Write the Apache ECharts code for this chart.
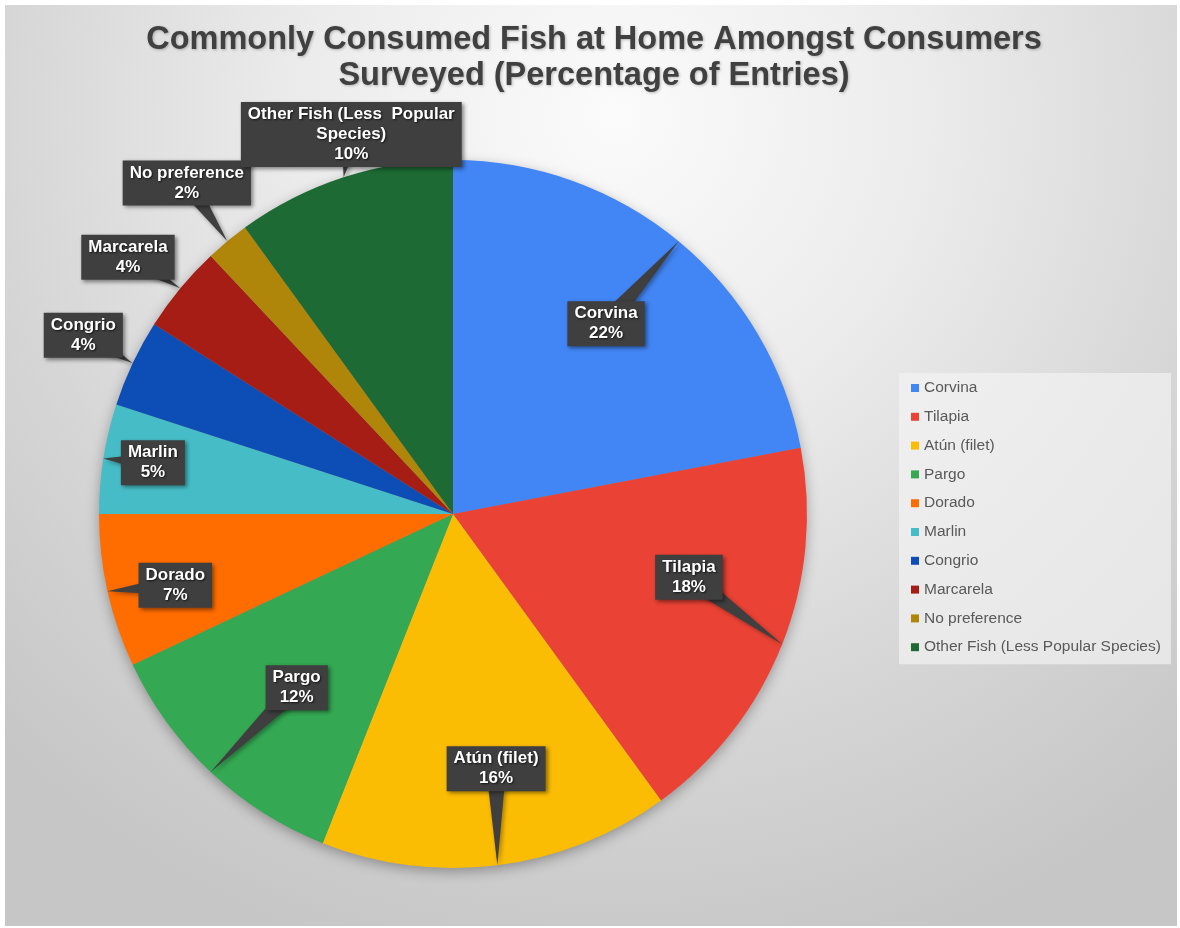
<!DOCTYPE html>
<html>
<head>
<meta charset="utf-8">
<title>Commonly Consumed Fish at Home</title>
<script src="https://cdn.jsdelivr.net/npm/echarts@6/dist/echarts.min.js"></script>
<style>
  html, body { margin: 0; padding: 0; background: #ffffff; }
  #chart {
    position: absolute;
    left: 5px; top: 5px;
    width: 1172px; height: 921px;
    background: radial-gradient(ellipse 75% 95% at 52% 12%, #fbfbfb 0%, #ececec 35%, #d6d6d6 70%, #c6c6c6 100%);
  }
</style>
</head>
<body>
<div id="chart"></div>
<script>
// Survey results: share of entries per fish species (percent)
const categories = ['Corvina', 'Tilapia', 'Atún (filet)', 'Pargo', 'Dorado', 'Marlin',
  'Congrio', 'Marcarela', 'No preference', 'Other Fish (Less Popular Species)'];
const shares = [22, 18, 16, 12, 7, 5, 4, 4, 2, 10];
// Text shown inside each callout box
const calloutNames = ['Corvina', 'Tilapia', 'Atún (filet)', 'Pargo', 'Dorado', 'Marlin',
  'Congrio', 'Marcarela', 'No preference', 'Other Fish (Less  Popular\nSpecies)'];
const sliceColors = ['#4285f4', '#ea4335', '#fbbc04', '#34a853', '#ff6d01', '#46bdc6',
  '#0d4db6', '#a51d14', '#b0860a', '#1e6a34'];

// Callout placement: distance from centre (fraction of radius) and angular nudge (deg)
const calloutRadius = [0.69, 0.69, 0.73, 0.66, 0.81, 0.86, 1.16, 1.17, 1.20, 1.11];
const calloutTurn = [-0.8, -6.6, -2.4, -1.2, -1.8, 0.7, 0.6, -1.3, 0.8, 3];

const CX = 448, CY = 509, R = 354;
const FONT = "'Liberation Sans', Arial, sans-serif";
const BOX = '#3f3f3f';

const total = shares.reduce((a, b) => a + b, 0);
const cumulative = [];
shares.reduce((acc, v, i) => { cumulative[i] = acc; return acc + v; }, 0);

// Callout box centre and pointer tip (slice edge at its mid-angle) for slice i
function callout(i) {
  const mid = (cumulative[i] + shares[i] / 2) / total * 360;
  const a = (mid + calloutTurn[i]) * Math.PI / 180;
  const m = mid * Math.PI / 180;
  const d = R * calloutRadius[i];
  return {
    x: CX + d * Math.sin(a),
    y: CY - d * Math.cos(a),
    tip: [CX + R * Math.sin(m), CY - R * Math.cos(m)]
  };
}

const sliceData = categories.map((name, i) => ({ name: name, value: shares[i] }));

const chart = echarts.init(document.getElementById('chart'), null, { renderer: 'canvas' });

chart.setOption({
  backgroundColor: 'transparent',
  animation: false,
  title: {
    text: 'Commonly Consumed Fish at Home Amongst Consumers\nSurveyed (Percentage of Entries)',
    left: 589,
    top: 17,
    padding: 0,
    textAlign: 'center',
    textStyle: {
      fontFamily: FONT,
      fontSize: 32.5,
      fontWeight: 'bold',
      color: '#404040',
      lineHeight: 36,
      align: 'center',
      textShadowColor: 'rgba(0,0,0,0.25)',
      textShadowBlur: 3,
      textShadowOffsetX: 1,
      textShadowOffsetY: 1
    }
  },
  legend: {
    orient: 'vertical',
    left: 894,
    top: 368,
    padding: [6, 10, 8, 12],
    backgroundColor: 'rgba(244,244,244,0.65)',
    data: categories,
    icon: 'rect',
    itemWidth: 8,
    itemHeight: 8,
    itemGap: 10.8,
    textStyle: {
      fontFamily: FONT,
      fontSize: 15.5,
      lineHeight: 18,
      color: '#595959'
    }
  },
  series: [
    {
      // soft drop shadow beneath the pie
      type: 'pie',
      silent: true,
      center: [CX, CY],
      radius: R - 1,
      z: 1,
      label: { show: false },
      labelLine: { show: false },
      itemStyle: {
        color: '#8a8a8a',
        shadowBlur: 14,
        shadowOffsetY: 4,
        shadowColor: 'rgba(0,0,0,0.35)'
      },
      data: [{ value: 1, name: '' }]
    },
    {
      // coloured slices
      type: 'pie',
      center: [CX, CY],
      radius: R,
      z: 2,
      startAngle: 90,
      clockwise: true,
      data: sliceData.map((d, i) => Object.assign({}, d, {
        itemStyle: { color: sliceColors[i] }
      })),
      label: { show: false },
      labelLine: { show: false }
    },
    {
      // tapered callout pointers from each box to its slice edge
      type: 'custom',
      coordinateSystem: 'none',
      silent: true,
      z: 3,
      data: shares,
      renderItem: function (params) {
        const c = callout(params.dataIndex);
        const dx = c.tip[0] - c.x, dy = c.tip[1] - c.y;
        const len = Math.sqrt(dx * dx + dy * dy) || 1;
        const px = -dy / len * 10, py = dx / len * 10;
        return {
          type: 'polygon',
          shape: { points: [c.tip, [c.x + px, c.y + py], [c.x - px, c.y - py]] },
          style: {
            fill: BOX,
            shadowBlur: 4,
            shadowOffsetX: 2,
            shadowOffsetY: 2,
            shadowColor: 'rgba(0,0,0,0.35)'
          }
        };
      }
    },
    {
      // transparent overlay carrying the callout boxes
      type: 'pie',
      center: [CX, CY],
      radius: R,
      z: 4,
      silent: true,
      legendHoverLink: false,
      startAngle: 90,
      clockwise: true,
      avoidLabelOverlap: false,
      data: sliceData,
      itemStyle: { color: 'rgba(0,0,0,0)' },
      label: {
        show: true,
        position: 'outside',
        formatter: p => calloutNames[p.dataIndex] + '\n' + p.value + '%',
        fontFamily: FONT,
        fontSize: 17,
        fontWeight: 'bold',
        lineHeight: 20,
        color: '#ffffff',
        align: 'center',
        textShadowColor: 'rgba(0,0,0,0.7)',
        textShadowBlur: 2,
        textShadowOffsetX: 1,
        textShadowOffsetY: 1,
        backgroundColor: BOX,
        padding: [3, 7, 2, 7],
        shadowColor: 'rgba(0,0,0,0.45)',
        shadowBlur: 4,
        shadowOffsetX: 2,
        shadowOffsetY: 2
      },
      labelLine: { show: false },
      labelLayout: function (p) {
        const c = callout(p.dataIndex);
        return { x: c.x, y: c.y, align: 'center', verticalAlign: 'middle' };
      }
    }
  ]
});
</script>
</body>
</html>
